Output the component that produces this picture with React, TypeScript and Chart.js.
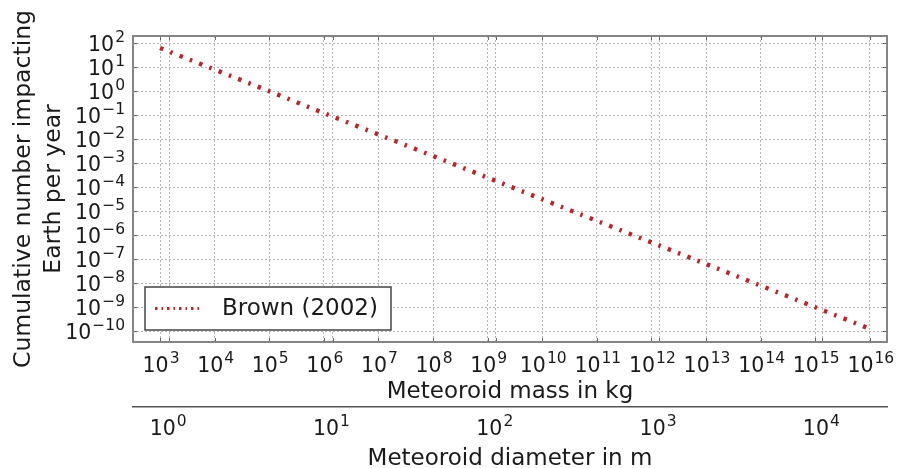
import React, { useEffect, useRef } from 'react';
import { Chart, registerables } from 'chart.js';

Chart.register(...registerables);

// ---- data ----
const massKg = [1e3, 1e4, 1e5, 1e6, 1e7, 1e8, 1e9, 1e10, 1e11, 1e12, 1e13, 1e14, 1e15, 1e16];
const impactsPerYear = [62, 7.8, 0.98, 0.12, 0.0155, 0.00195, 0.000245, 3.1e-5, 3.9e-6, 4.9e-7, 6.2e-8, 7.8e-9, 9.8e-10, 1.23e-10];
const seriesLabel = 'Brown (2002)';

const massTickExponents = [3, 4, 5, 6, 7, 8, 9, 10, 11, 12, 13, 14, 15, 16];
const diameterTickExponents = [0, 1, 2, 3, 4];
const rateTickExponents = [2, 1, 0, -1, -2, -3, -4, -5, -6, -7, -8, -9, -10];

const massRangeExp = [2.505, 16.315];
const diameterRangeExp = [-0.195, 4.396];
const rateRangeExp = [-10.458, 2.292];

const yTitle = ['Cumulative number impacting', 'Earth per year'];
const massTitle = 'Meteoroid mass in kg';
const diameterTitle = 'Meteoroid diameter in m';

// ---- styling ----
const FONT = "'DejaVu Sans', 'Bitstream Vera Sans', sans-serif";
const TEXT = '#1a1a1a';
const LINE_COLOR = '#b3292b';
const GRID = '#b3b3b3';
const BASE_SIZE = 20.5;
const EXP_SIZE = 15.5;

// power-of-ten label: "10" with a raised exponent
function drawPow(ctx: CanvasRenderingContext2D, exp: number, x: number, baseY: number, align: 'center' | 'right') {
  const base = '10';
  const e = String(exp).replace('-', '\u2212');
  ctx.font = `${BASE_SIZE}px ${FONT}`;
  const wb = ctx.measureText(base).width;
  ctx.font = `${EXP_SIZE}px ${FONT}`;
  const we = ctx.measureText(e).width;
  const gap = 1;
  const total = wb + gap + we;
  const x0 = align === 'center' ? x - total / 2 : x - total;
  ctx.textAlign = 'left';
  ctx.textBaseline = 'alphabetic';
  ctx.font = `${BASE_SIZE}px ${FONT}`;
  ctx.fillText(base, x0, baseY);
  ctx.font = `${EXP_SIZE}px ${FONT}`;
  ctx.fillText(e, x0 + wb + gap, baseY - 9);
}

const powTickLabels = {
  id: 'powTickLabels',
  afterDraw(chart: any) {
    const { ctx, chartArea: a, scales } = chart;
    ctx.save();
    ctx.fillStyle = TEXT;
    scales.y.ticks.forEach((t: any) => {
      const p = scales.y.getPixelForValue(t.value);
      drawPow(ctx, Math.round(Math.log10(t.value)), a.left - 8, p + 7.5, 'right');
    });
    scales.x.ticks.forEach((t: any) => {
      const p = scales.x.getPixelForValue(t.value);
      drawPow(ctx, Math.round(Math.log10(t.value)), p + 1, a.bottom + 30, 'center');
    });
    scales.x2.ticks.forEach((t: any) => {
      const p = scales.x2.getPixelForValue(t.value);
      drawPow(ctx, Math.round(Math.log10(t.value)), p - 1, scales.x2.top + 28, 'center');
    });
    ctx.restore();
  },
};

const frameAndTicks = {
  id: 'frameAndTicks',
  afterDatasetsDraw(chart: any) {
    const { ctx, chartArea: a, scales } = chart;
    ctx.save();
    ctx.strokeStyle = '#666';
    ctx.lineWidth = 1;
    const tl = 4;
    ctx.beginPath();
    scales.y.ticks.forEach((t: any) => {
      const p = Math.round(scales.y.getPixelForValue(t.value)) + 0.5;
      ctx.moveTo(a.left, p); ctx.lineTo(a.left + tl, p);
      ctx.moveTo(a.right, p); ctx.lineTo(a.right - tl, p);
    });
    ['x', 'x2'].forEach((id) => {
      scales[id].ticks.forEach((t: any) => {
        const p = Math.round(scales[id].getPixelForValue(t.value)) + 0.5;
        ctx.moveTo(p, a.bottom); ctx.lineTo(p, a.bottom - tl);
        ctx.moveTo(p, a.top); ctx.lineTo(p, a.top + tl);
      });
    });
    ctx.stroke();
    ctx.strokeStyle = '#858585';
    ctx.lineWidth = 2;
    ctx.strokeRect(a.left, a.top, a.right - a.left, a.bottom - a.top);
    ctx.restore();
  },
};

const boxLegend = {
  id: 'boxLegend',
  afterDraw(chart: any) {
    const { ctx, chartArea } = chart;
    const ds = chart.data.datasets[0];
    const width = 246;
    const height = 43;
    const left = chartArea.left + 12;
    const top = chartArea.bottom - 12 - height;
    ctx.save();
    ctx.fillStyle = '#ffffff';
    ctx.fillRect(left, top, width, height);
    ctx.strokeStyle = '#444';
    ctx.lineWidth = 1.5;
    ctx.strokeRect(left, top, width, height);
    const cy = top + height / 2;
    ctx.strokeStyle = ds.borderColor;
    ctx.lineWidth = 3;
    ctx.setLineDash([2.5, 4, 1.5, 4]);
    ctx.beginPath();
    ctx.moveTo(left + 10, cy);
    ctx.lineTo(left + 57, cy);
    ctx.stroke();
    ctx.setLineDash([]);
    ctx.fillStyle = TEXT;
    ctx.font = `23px ${FONT}`;
    ctx.textBaseline = 'middle';
    ctx.textAlign = 'left';
    ctx.fillText(ds.label, left + 77, cy + 1);
    ctx.restore();
  },
};

export default function App() {
  const canvasRef = useRef<HTMLCanvasElement | null>(null);

  useEffect(() => {
    if (!canvasRef.current) return;
    const chart = new Chart(canvasRef.current, {
      type: 'line',
      data: {
        datasets: [
          {
            label: seriesLabel,
            data: massKg.map((m, i) => ({ x: m, y: impactsPerYear[i] })),
            borderColor: LINE_COLOR,
            backgroundColor: LINE_COLOR,
            borderWidth: 4.5,
            borderDash: [3.5, 7.5, 2.5, 7.5],
            pointRadius: 0,
            tension: 0,
            fill: false,
            xAxisID: 'x',
            yAxisID: 'y',
          },
        ],
      },
      options: {
        responsive: false,
        animation: false,
        devicePixelRatio: 1,
        layout: { padding: { top: 36, right: 14, left: 0, bottom: 0 } },
        plugins: { legend: { display: false }, tooltip: { enabled: false } },
        scales: {
          x: {
            type: 'logarithmic',
            position: 'bottom',
            weight: 0,
            min: Math.pow(10, massRangeExp[0]),
            max: Math.pow(10, massRangeExp[1]),
            afterBuildTicks: (s: any) => {
              s.ticks = massTickExponents.map((e) => ({ value: Math.pow(10, e) }));
            },
            afterFit: (s: any) => { s.height = 65; },
            ticks: { display: false, autoSkip: false, maxRotation: 0, minRotation: 0 },
            grid: { color: GRID, lineWidth: 1, drawTicks: false, drawOnChartArea: true },
            border: { display: false, dash: [2, 2] },
            title: {
              display: true, text: massTitle, color: TEXT,
              font: { family: FONT, size: 23, lineHeight: 1 },
              padding: { top: 0, bottom: 3 },
            },
          },
          x2: {
            type: 'logarithmic',
            position: 'bottom',
            weight: 1,
            min: Math.pow(10, diameterRangeExp[0]),
            max: Math.pow(10, diameterRangeExp[1]),
            afterBuildTicks: (s: any) => {
              s.ticks = diameterTickExponents.map((e) => ({ value: Math.pow(10, e) }));
            },
            afterFit: (s: any) => { s.height = 61; },
            ticks: { display: false, autoSkip: false, maxRotation: 0, minRotation: 0 },
            grid: { color: GRID, lineWidth: 1, drawTicks: false, drawOnChartArea: true },
            border: { display: true, color: '#555', width: 1.5, dash: [2, 2] },
            title: {
              display: true, text: diameterTitle, color: TEXT,
              font: { family: FONT, size: 23, lineHeight: 0.8 },
              padding: { top: 0, bottom: 0 },
            },
          },
          y: {
            type: 'logarithmic',
            position: 'left',
            min: Math.pow(10, rateRangeExp[0]),
            max: Math.pow(10, rateRangeExp[1]),
            afterBuildTicks: (s: any) => {
              s.ticks = rateTickExponents.map((e) => ({ value: Math.pow(10, e) }));
            },
            afterFit: (s: any) => { s.width = 133; },
            ticks: { display: false, autoSkip: false },
            grid: { color: GRID, lineWidth: 1, drawTicks: false },
            border: { display: false, dash: [2, 2] },
            title: {
              display: true, text: yTitle, color: TEXT,
              font: { family: FONT, size: 23.5, lineHeight: 1.3 },
              padding: { top: 8.5, bottom: 0 },
            },
          },
        },
      },
      plugins: [frameAndTicks, boxLegend, powTickLabels],
    } as any);
    return () => chart.destroy();
  }, []);

  return (
    <canvas
      ref={canvasRef}
      width={901}
      height={468}
      style={{ position: 'absolute', left: 0, top: 0, display: 'block' }}
    />
  );
}
